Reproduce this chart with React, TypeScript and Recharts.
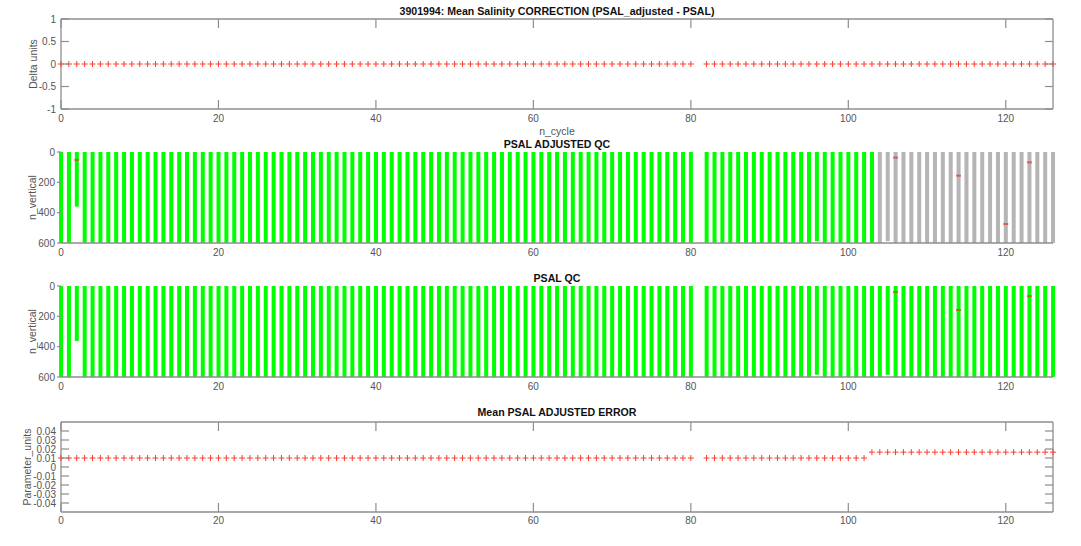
import React from "react";
import { ComposedChart, XAxis, YAxis, Scatter, Bar, Cell, Label } from "recharts";

// ---------- DATA ----------
const cycles = [
  0, 1, 2, 3, 4, 5, 6, 7, 8, 9,
  10, 11, 12, 13, 14, 15, 16, 17, 18, 19,
  20, 21, 22, 23, 24, 25, 26, 27, 28, 29,
  30, 31, 32, 33, 34, 35, 36, 37, 38, 39,
  40, 41, 42, 43, 44, 45, 46, 47, 48, 49,
  50, 51, 52, 53, 54, 55, 56, 57, 58, 59,
  60, 61, 62, 63, 64, 65, 66, 67, 68, 69,
  70, 71, 72, 73, 74, 75, 76, 77, 78, 79,
  80, 82, 83, 84, 85, 86, 87, 88, 89, 90,
  91, 92, 93, 94, 95, 96, 97, 98, 99, 100,
  101, 102, 103, 104, 105, 106, 107, 108, 109, 110,
  111, 112, 113, 114, 115, 116, 117, 118, 119, 120,
  121, 122, 123, 124, 125, 126,
];

const correction = [
  0, 0, 0, 0, 0, 0, 0, 0, 0, 0,
  0, 0, 0, 0, 0, 0, 0, 0, 0, 0,
  0, 0, 0, 0, 0, 0, 0, 0, 0, 0,
  0, 0, 0, 0, 0, 0, 0, 0, 0, 0,
  0, 0, 0, 0, 0, 0, 0, 0, 0, 0,
  0, 0, 0, 0, 0, 0, 0, 0, 0, 0,
  0, 0, 0, 0, 0, 0, 0, 0, 0, 0,
  0, 0, 0, 0, 0, 0, 0, 0, 0, 0,
  0, 0, 0, 0, 0, 0, 0, 0, 0, 0,
  0, 0, 0, 0, 0, 0, 0, 0, 0, 0,
  0, 0, 0, 0, 0, 0, 0, 0, 0, 0,
  0, 0, 0, 0, 0, 0, 0, 0, 0, 0,
  0, 0, 0, 0, 0, 0,
];

const adjDepth = [
  600, 600, 360, 600, 600, 600, 600, 600, 600, 600,
  600, 600, 600, 600, 600, 600, 600, 600, 600, 600,
  600, 600, 600, 600, 600, 600, 600, 600, 600, 600,
  600, 600, 600, 600, 600, 600, 600, 600, 600, 600,
  600, 600, 600, 600, 600, 600, 600, 600, 600, 600,
  600, 600, 600, 600, 600, 600, 600, 600, 600, 600,
  600, 600, 600, 600, 600, 600, 600, 600, 600, 600,
  600, 600, 600, 600, 600, 600, 600, 600, 600, 600,
  600, 600, 600, 600, 600, 600, 600, 600, 600, 600,
  600, 600, 600, 600, 600, 588, 600, 600, 600, 600,
  600, 600, 600, 600, 588, 600, 600, 600, 600, 600,
  600, 600, 600, 600, 600, 600, 600, 600, 600, 600,
  600, 600, 600, 600, 600, 600,
];

const adjFlag = [
  "G", "G", "G", "G", "G", "G", "G", "G", "G", "G",
  "G", "G", "G", "G", "G", "G", "G", "G", "G", "G",
  "G", "G", "G", "G", "G", "G", "G", "G", "G", "G",
  "G", "G", "G", "G", "G", "G", "G", "G", "G", "G",
  "G", "G", "G", "G", "G", "G", "G", "G", "G", "G",
  "G", "G", "G", "G", "G", "G", "G", "G", "G", "G",
  "G", "G", "G", "G", "G", "G", "G", "G", "G", "G",
  "G", "G", "G", "G", "G", "G", "G", "G", "G", "G",
  "G", "G", "G", "G", "G", "G", "G", "G", "G", "G",
  "G", "G", "G", "G", "G", "G", "G", "G", "G", "G",
  "G", "G", "G", "X", "X", "X", "X", "X", "X", "X",
  "X", "X", "X", "X", "X", "X", "X", "X", "X", "X",
  "X", "X", "X", "X", "X", "X",
];

const psalDepth = [
  600, 600, 362, 600, 600, 600, 600, 600, 600, 600,
  600, 600, 600, 600, 600, 600, 600, 600, 600, 600,
  600, 600, 600, 600, 600, 600, 600, 600, 600, 600,
  600, 600, 600, 600, 600, 600, 600, 600, 600, 600,
  600, 600, 600, 600, 600, 600, 600, 600, 600, 600,
  600, 600, 600, 600, 600, 600, 600, 600, 600, 600,
  600, 600, 600, 600, 600, 600, 600, 600, 600, 600,
  600, 600, 600, 600, 600, 600, 600, 600, 600, 600,
  600, 600, 600, 600, 600, 600, 600, 600, 600, 600,
  600, 600, 600, 600, 600, 585, 600, 600, 600, 600,
  600, 600, 600, 600, 585, 600, 600, 600, 600, 600,
  600, 600, 600, 600, 600, 600, 600, 600, 600, 600,
  600, 600, 600, 600, 600, 600,
];

const adjError = [
  0.01, 0.01, 0.01, 0.01, 0.01, 0.01, 0.01, 0.01, 0.01, 0.01,
  0.01, 0.01, 0.01, 0.01, 0.01, 0.01, 0.01, 0.01, 0.01, 0.01,
  0.01, 0.01, 0.01, 0.01, 0.01, 0.01, 0.01, 0.01, 0.01, 0.01,
  0.01, 0.01, 0.01, 0.01, 0.01, 0.01, 0.01, 0.01, 0.01, 0.01,
  0.01, 0.01, 0.01, 0.01, 0.01, 0.01, 0.01, 0.01, 0.01, 0.01,
  0.01, 0.01, 0.01, 0.01, 0.01, 0.01, 0.01, 0.01, 0.01, 0.01,
  0.01, 0.01, 0.01, 0.01, 0.01, 0.01, 0.01, 0.01, 0.01, 0.01,
  0.01, 0.01, 0.01, 0.01, 0.01, 0.01, 0.01, 0.01, 0.01, 0.01,
  0.01, 0.01, 0.01, 0.01, 0.01, 0.01, 0.01, 0.01, 0.01, 0.01,
  0.01, 0.01, 0.01, 0.01, 0.01, 0.01, 0.01, 0.01, 0.01, 0.01,
  0.01, 0.01, 0.0165, 0.0165, 0.0165, 0.0165, 0.0165, 0.0165, 0.0165, 0.0165,
  0.0165, 0.0165, 0.0165, 0.0165, 0.0165, 0.0165, 0.0165, 0.0165, 0.0165, 0.0165,
  0.0165, 0.0165, 0.0165, 0.0165, 0.0165, 0.0165,
];

// bad-QC samples drawn as small marks on the profiles
const adjMarkCycles = [2, 106, 114, 120, 123];
const adjMarkDepths = [52, 37, 156, 475, 68];
const psalMarkCycles = [106, 114, 123];
const psalMarkDepths = [40, 158, 67];

const xTicks = [0, 20, 40, 60, 80, 100, 120];
const corrTicks = [-1, -0.5, 0, 0.5, 1];
const depthTicks = [0, 200, 400, 600];
const errTicks = [-0.04, -0.03, -0.02, -0.01, 0, 0.01, 0.02, 0.03, 0.04];

const TITLE1 = "3901994: Mean Salinity CORRECTION (PSAL_adjusted - PSAL)";
const TITLE2 = "PSAL ADJUSTED QC";
const TITLE3 = "PSAL QC";
const TITLE4 = "Mean PSAL ADJUSTED ERROR";

// ---------- STYLE ----------
const FONT = "'Liberation Sans', Arial, Helvetica, sans-serif";
const AX = "#8e8e8e";
const TXT = "#555555";
const RED = "#ff3b2b";
const GREEN = "#00ff00";
const GRAY = "#b5b5b5";
const TICK_FS = 10;
const LABEL_FS = 10.5;
const TITLE_FS = 10.6;

const corrRows = cycles.map((c, i) => ({ cycle: c, value: correction[i] }));
const errRows = cycles.map((c, i) => ({ cycle: c, value: adjError[i] }));
const adjRows = cycles.map((c, i) => ({ cycle: c, depth: adjDepth[i], flag: adjFlag[i] }));
const psalRows = cycles.map((c, i) => ({ cycle: c, depth: psalDepth[i] }));
const adjMarks = adjMarkCycles.map((c, i) => ({ cycle: c, depth: adjMarkDepths[i] }));
const psalMarks = psalMarkCycles.map((c, i) => ({ cycle: c, depth: psalMarkDepths[i] }));

const fmt = (v: number) => String(Math.round(v * 1000) / 1000);

const LeftTick = (p: any) => (
  <g>
    <line x1={p.x} x2={p.x + 8} y1={p.y} y2={p.y} stroke={AX} strokeWidth={1.2} />
    <text x={p.x - 5} y={p.y} dy={3.5} textAnchor="end" fontSize={TICK_FS} fill={TXT} fontFamily={FONT}>
      {fmt(p.payload.value)}
    </text>
  </g>
);
const LeftTickDepth = (p: any) => (
  <g>
    <line x1={p.x - 4} x2={p.x} y1={p.y} y2={p.y} stroke={AX} strokeWidth={1.2} />
    <text x={p.x - 6} y={p.y} dy={3.5} textAnchor="end" fontSize={TICK_FS} fill={TXT} fontFamily={FONT}>
      {fmt(p.payload.value)}
    </text>
  </g>
);
const RightTick = (p: any) => (
  <line x1={p.x - 8} x2={p.x} y1={p.y} y2={p.y} stroke={AX} strokeWidth={1.2} />
);
const BottomTick = (p: any) => (
  <g>
    {p.inner !== false && (
      <line x1={p.x} x2={p.x} y1={p.y} y2={p.y - 9} stroke={AX} strokeWidth={1.2} />
    )}
    <text x={p.x} y={p.y} dy={p.dy0 || 13} textAnchor="middle" fontSize={TICK_FS} fill={TXT} fontFamily={FONT}>
      {fmt(p.payload.value)}
    </text>
  </g>
);
const TopTick = (p: any) => (
  <line x1={p.x} x2={p.x} y1={p.y} y2={p.y + 9} stroke={AX} strokeWidth={1.2} />
);

const Plus = (p: any) => {
  const { cx, cy } = p;
  if (cx == null || cy == null) return null;
  return (
    <path
      d={`M${cx - 3},${cy}H${cx + 3}M${cx},${cy - 3}V${cy + 3}`}
      stroke={RED}
      strokeWidth={1}
      fill="none"
    />
  );
};

const Mark = (p: any) => {
  const { cx, cy } = p;
  if (cx == null || cy == null) return null;
  return <rect x={cx - 2.5} y={cy - 1} width={5} height={2} fill="#e8302a" fillOpacity={0.65} />;
};

const Nothing = () => <g />;

const yLabel = (text: string, xc: number) => (props: any) => {
  const vb = props.viewBox || {};
  const cy = vb.y + vb.height / 2;
  return (
    <text
      x={xc}
      y={cy}
      transform={`rotate(-90 ${xc} ${cy})`}
      textAnchor="middle"
      dominantBaseline="central"
      fontSize={LABEL_FS}
      fill={TXT}
      fontFamily={FONT}
    >
      {text}
    </text>
  );
};

const axisLine = { stroke: AX, strokeWidth: 1.3 };
const W = 1081;

export default function App() {
  return (
    <div style={{ position: "absolute", left: 0, top: 0, width: W, height: 546, background: "#fff" }}>
      {/* Panel 1 */}
      <div style={{ position: "absolute", left: 0, top: 0 }}>
        <ComposedChart width={W} height={140} margin={{ top: 18, right: 27, bottom: 0, left: 0 }}>
          <XAxis
            xAxisId="b"
            dataKey="cycle"
            type="number"
            domain={[0, 126]}
            ticks={xTicks}
            interval={0}
            height={31}
            tickSize={0}
            tickMargin={0}
            tickLine={false}
            axisLine={axisLine}
            tick={<BottomTick />}
          >
            <Label value="n_cycle" position="insideBottom" offset={5} fontSize={LABEL_FS} fill={TXT} fontFamily={FONT} />
          </XAxis>
          <XAxis
            xAxisId="t"
            dataKey="cycle"
            orientation="top"
            type="number"
            domain={[0, 126]}
            ticks={xTicks}
            interval={0}
            height={1}
            tickSize={0}
            tickMargin={0}
            tickLine={false}
            axisLine={axisLine}
            tick={<TopTick />}
          >
            <Label value={TITLE1} position="top" offset={3} fontSize={TITLE_FS} fontWeight="bold" fill="#111" fontFamily={FONT} />
          </XAxis>
          <YAxis
            yAxisId="l"
            type="number"
            domain={[-1, 1]}
            ticks={corrTicks}
            interval={0}
            width={61}
            tickSize={0}
            tickMargin={0}
            tickLine={false}
            axisLine={axisLine}
            tick={<LeftTick />}
          >
            <Label content={yLabel("Delta units", 33)} />
          </YAxis>
          <YAxis
            yAxisId="r"
            orientation="right"
            type="number"
            domain={[-1, 1]}
            ticks={corrTicks}
            interval={0}
            width={1}
            tickSize={0}
            tickMargin={0}
            tickLine={false}
            axisLine={axisLine}
            tick={<RightTick />}
          />
          <Scatter xAxisId="t" yAxisId="r" data={corrRows} dataKey="value" shape={<Nothing />} isAnimationActive={false} />
          <Scatter xAxisId="b" yAxisId="l" data={corrRows} dataKey="value" shape={<Plus />} isAnimationActive={false} />
        </ComposedChart>
      </div>

      {/* Panel 2 */}
      <div style={{ position: "absolute", left: 0, top: 132 }}>
        <ComposedChart width={W} height={138} data={adjRows} margin={{ top: 19, right: 27, bottom: 0, left: 0 }}>
          <XAxis
            xAxisId="b"
            dataKey="cycle"
            type="number"
            domain={[0, 126]}
            ticks={xTicks}
            interval={0}
            height={27}
            tickSize={0}
            tickMargin={0}
            tickLine={false}
            axisLine={axisLine}
            tick={<BottomTick inner={false} />}
          />
          <XAxis
            xAxisId="t"
            dataKey="cycle"
            orientation="top"
            type="number"
            domain={[0, 126]}
            height={1}
            tick={false}
            tickLine={false}
            axisLine={false}
          >
            <Label value={TITLE2} position="top" offset={3} fontSize={TITLE_FS} fontWeight="bold" fill="#111" fontFamily={FONT} />
          </XAxis>
          <YAxis
            yAxisId="l"
            type="number"
            reversed
            domain={[0, 600]}
            ticks={depthTicks}
            interval={0}
            width={61}
            tickSize={0}
            tickMargin={0}
            tickLine={false}
            axisLine={false}
            tick={<LeftTickDepth />}
          >
            <Label content={yLabel("n_vertical", 32)} />
          </YAxis>
          <YAxis yAxisId="r" orientation="right" type="number" reversed domain={[0, 600]} width={1} tick={false} tickLine={false} axisLine={false} />
          <Scatter xAxisId="t" yAxisId="r" data={adjRows} dataKey="depth" shape={<Nothing />} isAnimationActive={false} />
          <Bar xAxisId="b" yAxisId="l" dataKey="depth" barSize={4} isAnimationActive={false}>
            {adjRows.map((r, i) => (
              <Cell key={i} fill={r.flag === "G" ? GREEN : GRAY} />
            ))}
          </Bar>
          <Scatter xAxisId="b" yAxisId="l" data={adjMarks} dataKey="depth" shape={<Mark />} isAnimationActive={false} />
        </ComposedChart>
      </div>

      {/* Panel 3 */}
      <div style={{ position: "absolute", left: 0, top: 262 }}>
        <ComposedChart width={W} height={138} data={psalRows} margin={{ top: 23, right: 27, bottom: 0, left: 0 }}>
          <XAxis
            xAxisId="b"
            dataKey="cycle"
            type="number"
            domain={[0, 126]}
            ticks={xTicks}
            interval={0}
            height={23}
            tickSize={0}
            tickMargin={0}
            tickLine={false}
            axisLine={axisLine}
            tick={<BottomTick inner={false} />}
          />
          <XAxis
            xAxisId="t"
            dataKey="cycle"
            orientation="top"
            type="number"
            domain={[0, 126]}
            height={1}
            tick={false}
            tickLine={false}
            axisLine={false}
          >
            <Label value={TITLE3} position="top" offset={3} fontSize={TITLE_FS} fontWeight="bold" fill="#111" fontFamily={FONT} />
          </XAxis>
          <YAxis
            yAxisId="l"
            type="number"
            reversed
            domain={[0, 600]}
            ticks={depthTicks}
            interval={0}
            width={61}
            tickSize={0}
            tickMargin={0}
            tickLine={false}
            axisLine={false}
            tick={<LeftTickDepth />}
          >
            <Label content={yLabel("n_vertical", 32)} />
          </YAxis>
          <YAxis yAxisId="r" orientation="right" type="number" reversed domain={[0, 600]} width={1} tick={false} tickLine={false} axisLine={false} />
          <Scatter xAxisId="t" yAxisId="r" data={psalRows} dataKey="depth" shape={<Nothing />} isAnimationActive={false} />
          <Bar xAxisId="b" yAxisId="l" dataKey="depth" barSize={4} fill={GREEN} isAnimationActive={false} />
          <Scatter xAxisId="b" yAxisId="l" data={psalMarks} dataKey="depth" shape={<Mark />} isAnimationActive={false} />
        </ComposedChart>
      </div>

      {/* Panel 4 */}
      <div style={{ position: "absolute", left: 0, top: 392 }}>
        <ComposedChart width={W} height={154} margin={{ top: 29, right: 27, bottom: 0, left: 0 }}>
          <XAxis
            xAxisId="b"
            dataKey="cycle"
            type="number"
            domain={[0, 126]}
            ticks={xTicks}
            interval={0}
            height={34}
            tickSize={0}
            tickMargin={0}
            tickLine={false}
            axisLine={axisLine}
            tick={<BottomTick dy0={12} />}
          />
          <XAxis
            xAxisId="t"
            dataKey="cycle"
            orientation="top"
            type="number"
            domain={[0, 126]}
            ticks={xTicks}
            interval={0}
            height={1}
            tickSize={0}
            tickMargin={0}
            tickLine={false}
            axisLine={axisLine}
            tick={<TopTick />}
          >
            <Label value={TITLE4} position="top" offset={5} fontSize={TITLE_FS} fontWeight="bold" fill="#111" fontFamily={FONT} />
          </XAxis>
          <YAxis
            yAxisId="l"
            type="number"
            domain={[-0.05, 0.05]}
            ticks={errTicks}
            interval={0}
            width={61}
            tickSize={0}
            tickMargin={0}
            tickLine={false}
            axisLine={axisLine}
            tick={<LeftTick />}
          >
            <Label content={yLabel("Parameter_units", 27)} />
          </YAxis>
          <YAxis
            yAxisId="r"
            orientation="right"
            type="number"
            domain={[-0.05, 0.05]}
            ticks={errTicks}
            interval={0}
            width={1}
            tickSize={0}
            tickMargin={0}
            tickLine={false}
            axisLine={axisLine}
            tick={<RightTick />}
          />
          <Scatter xAxisId="t" yAxisId="r" data={errRows} dataKey="value" shape={<Nothing />} isAnimationActive={false} />
          <Scatter xAxisId="b" yAxisId="l" data={errRows} dataKey="value" shape={<Plus />} isAnimationActive={false} />
        </ComposedChart>
      </div>
    </div>
  );
}
